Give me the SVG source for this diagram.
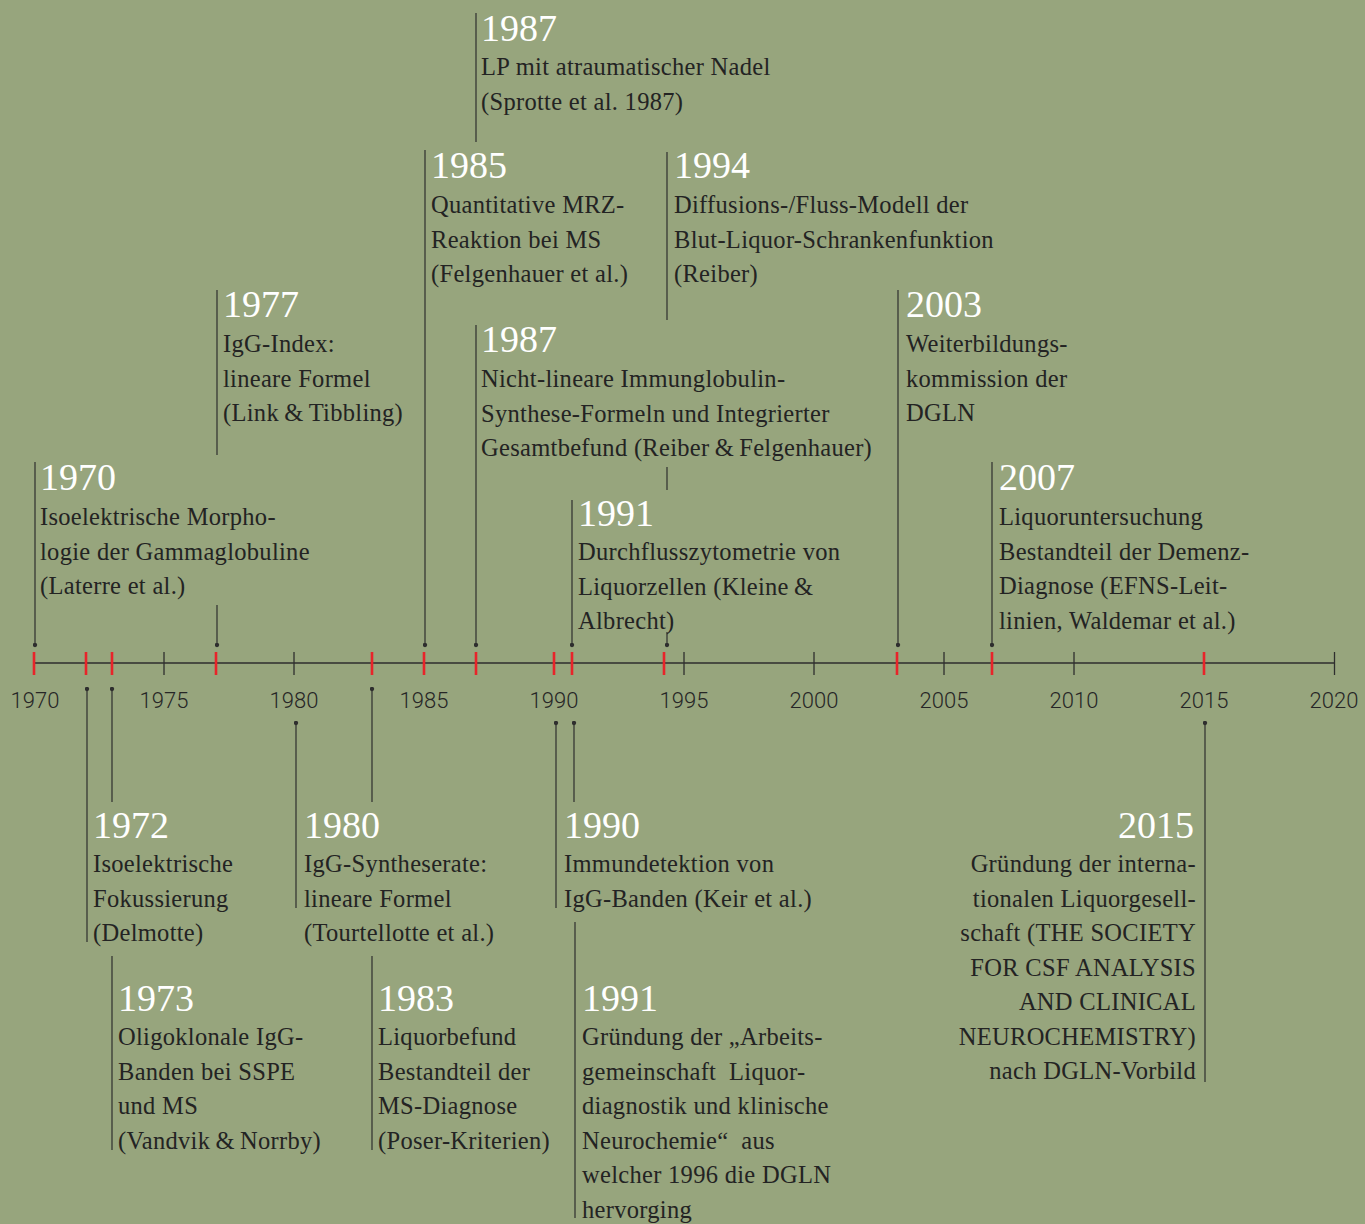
<svg xmlns="http://www.w3.org/2000/svg" width="1365" height="1224" viewBox="0 0 1365 1224">
<defs>
<style>
.bg{fill:#97a57d}
.axis{stroke:#2e2e2e;stroke-width:1.3;fill:none}
.tk{stroke:#2e2e2e;stroke-width:1.3}
.rt{stroke:#e8242a;stroke-width:2.6}
.al{font-family:Roboto,"Liberation Sans",sans-serif;font-size:22px;fill:#262626;text-anchor:middle;font-weight:300}
.c{stroke:#2e2e2e;stroke-width:1.2;fill:none}
.yr{font-family:"Liberation Serif",serif;font-size:38px;fill:#ffffff}
.tx{font-family:"Liberation Serif",serif;font-size:24.5px;letter-spacing:0.3px;fill:#232323}
.r{text-anchor:end}
</style>
<marker id="dot" viewBox="0 0 6 6" refX="3" refY="3" markerWidth="5" markerHeight="5" markerUnits="userSpaceOnUse"><circle cx="3" cy="3" r="2.6" fill="#2e2e2e"/></marker>
</defs>
<rect class="bg" x="0" y="0" width="1365" height="1224"/>

<g id="axis">
<line class="axis" x1="34" y1="663" x2="1335" y2="663"/>
<line class="tk" x1="164" y1="652" x2="164" y2="675"/>
<line class="tk" x1="294" y1="652" x2="294" y2="675"/>
<line class="tk" x1="684" y1="652" x2="684" y2="675"/>
<line class="tk" x1="814" y1="652" x2="814" y2="675"/>
<line class="tk" x1="944" y1="652" x2="944" y2="675"/>
<line class="tk" x1="1074" y1="652" x2="1074" y2="675"/>
<line class="tk" x1="1334.5" y1="652" x2="1334.5" y2="675"/>
<line class="rt" x1="34" y1="652" x2="34" y2="675"/>
<line class="rt" x1="86" y1="652" x2="86" y2="675"/>
<line class="rt" x1="112" y1="652" x2="112" y2="675"/>
<line class="rt" x1="216" y1="652" x2="216" y2="675"/>
<line class="rt" x1="372" y1="652" x2="372" y2="675"/>
<line class="rt" x1="424" y1="652" x2="424" y2="675"/>
<line class="rt" x1="476" y1="652" x2="476" y2="675"/>
<line class="rt" x1="554" y1="652" x2="554" y2="675"/>
<line class="rt" x1="572" y1="652" x2="572" y2="675"/>
<line class="rt" x1="664" y1="652" x2="664" y2="675"/>
<line class="rt" x1="897" y1="652" x2="897" y2="675"/>
<line class="rt" x1="992" y1="652" x2="992" y2="675"/>
<line class="rt" x1="1204" y1="652" x2="1204" y2="675"/>
<text class="al" x="35" y="708">1970</text>
<text class="al" x="164" y="708">1975</text>
<text class="al" x="294" y="708">1980</text>
<text class="al" x="424" y="708">1985</text>
<text class="al" x="554" y="708">1990</text>
<text class="al" x="684" y="708">1995</text>
<text class="al" x="814" y="708">2000</text>
<text class="al" x="944" y="708">2005</text>
<text class="al" x="1074" y="708">2010</text>
<text class="al" x="1204" y="708">2015</text>
<text class="al" x="1334" y="708">2020</text>
</g>

<g id="connectors">
<line class="c" x1="35" y1="462" x2="35" y2="645" marker-end="url(#dot)"/>
<line class="c" x1="217" y1="290" x2="217" y2="455"/>
<line class="c" x1="217" y1="605" x2="217" y2="645" marker-end="url(#dot)"/>
<line class="c" x1="425" y1="150" x2="425" y2="645" marker-end="url(#dot)"/>
<line class="c" x1="476" y1="13" x2="476" y2="142"/>
<line class="c" x1="476" y1="325" x2="476" y2="645" marker-end="url(#dot)"/>
<line class="c" x1="667" y1="152" x2="667" y2="320"/>
<line class="c" x1="667" y1="467" x2="667" y2="490"/>
<line class="c" x1="667" y1="632" x2="667" y2="645" marker-end="url(#dot)"/>
<line class="c" x1="572" y1="500" x2="572" y2="645" marker-end="url(#dot)"/>
<line class="c" x1="898" y1="290" x2="898" y2="645" marker-end="url(#dot)"/>
<line class="c" x1="992" y1="462" x2="992" y2="645" marker-end="url(#dot)"/>
<line class="c" x1="87" y1="942" x2="87" y2="689" marker-end="url(#dot)"/>
<line class="c" x1="112" y1="802" x2="112" y2="689" marker-end="url(#dot)"/>
<line class="c" x1="112" y1="956" x2="112" y2="1150"/>
<line class="c" x1="296" y1="908" x2="296" y2="723" marker-end="url(#dot)"/>
<line class="c" x1="372" y1="802" x2="372" y2="689" marker-end="url(#dot)"/>
<line class="c" x1="372" y1="956" x2="372" y2="1150"/>
<line class="c" x1="556" y1="908" x2="556" y2="723" marker-end="url(#dot)"/>
<line class="c" x1="574" y1="802" x2="574" y2="723" marker-end="url(#dot)"/>
<line class="c" x1="575" y1="922" x2="575" y2="1218"/>
<line class="c" x1="1205" y1="1082" x2="1205" y2="723" marker-end="url(#dot)"/>
</g>

<g id="n1970">
<text class="yr" x="40" y="490">1970</text>
<text class="tx" x="40" y="525">Isoelektrische Morpho-</text>
<text class="tx" x="40" y="559.5">logie der Gammaglobuline</text>
<text class="tx" x="40" y="594">(Laterre et al.)</text>
</g>
<g id="n1977">
<text class="yr" x="223" y="317">1977</text>
<text class="tx" x="223" y="352">IgG-Index:</text>
<text class="tx" x="223" y="386.5">lineare Formel</text>
<text class="tx" x="223" y="421">(Link&#8201;&amp;&#8201;Tibbling)</text>
</g>
<g id="n1985">
<text class="yr" x="431" y="178">1985</text>
<text class="tx" x="431" y="213">Quantitative MRZ-</text>
<text class="tx" x="431" y="247.5">Reaktion bei MS</text>
<text class="tx" x="431" y="282">(Felgenhauer et al.)</text>
</g>
<g id="n1987a">
<text class="yr" x="481" y="41">1987</text>
<text class="tx" x="481" y="75">LP mit atraumatischer Nadel</text>
<text class="tx" x="481" y="109.5">(Sprotte et al. 1987)</text>
</g>
<g id="n1994">
<text class="yr" x="674" y="178">1994</text>
<text class="tx" x="674" y="213">Diffusions-/Fluss-Modell der</text>
<text class="tx" x="674" y="247.5">Blut-Liquor-Schrankenfunktion</text>
<text class="tx" x="674" y="282">(Reiber)</text>
</g>
<g id="n1987b">
<text class="yr" x="481" y="352">1987</text>
<text class="tx" x="481" y="387">Nicht-lineare Immunglobulin-</text>
<text class="tx" x="481" y="421.5">Synthese-Formeln und Integrierter</text>
<text class="tx" x="481" y="456">Gesamtbefund (Reiber&#8201;&amp;&#8201;Felgenhauer)</text>
</g>
<g id="n1991a">
<text class="yr" x="578" y="526">1991</text>
<text class="tx" x="578" y="560">Durchflusszytometrie von</text>
<text class="tx" x="578" y="594.5">Liquorzellen (Kleine&#8201;&amp;</text>
<text class="tx" x="578" y="629">Albrecht)</text>
</g>
<g id="n2003">
<text class="yr" x="906" y="317">2003</text>
<text class="tx" x="906" y="352">Weiterbildungs-</text>
<text class="tx" x="906" y="386.5">kommission der</text>
<text class="tx" x="906" y="421">DGLN</text>
</g>
<g id="n2007">
<text class="yr" x="999" y="490">2007</text>
<text class="tx" x="999" y="525">Liquoruntersuchung</text>
<text class="tx" x="999" y="559.5">Bestandteil der Demenz-</text>
<text class="tx" x="999" y="594">Diagnose (EFNS-Leit-</text>
<text class="tx" x="999" y="628.5">linien, Waldemar et al.)</text>
</g>
<g id="n1972">
<text class="yr" x="93" y="838">1972</text>
<text class="tx" x="93" y="872">Isoelektrische</text>
<text class="tx" x="93" y="906.5">Fokussierung</text>
<text class="tx" x="93" y="941">(Delmotte)</text>
</g>
<g id="n1973">
<text class="yr" x="118" y="1011">1973</text>
<text class="tx" x="118" y="1045">Oligoklonale IgG-</text>
<text class="tx" x="118" y="1079.5">Banden bei SSPE</text>
<text class="tx" x="118" y="1114">und MS</text>
<text class="tx" x="118" y="1148.5">(Vandvik&#8201;&amp;&#8201;Norrby)</text>
</g>
<g id="n1980">
<text class="yr" x="304" y="838">1980</text>
<text class="tx" x="304" y="872">IgG-Syntheserate:</text>
<text class="tx" x="304" y="906.5">lineare Formel</text>
<text class="tx" x="304" y="941">(Tourtellotte et al.)</text>
</g>
<g id="n1983">
<text class="yr" x="378" y="1011">1983</text>
<text class="tx" x="378" y="1045">Liquorbefund</text>
<text class="tx" x="378" y="1079.5">Bestandteil der</text>
<text class="tx" x="378" y="1114">MS-Diagnose</text>
<text class="tx" x="378" y="1148.5">(Poser-Kriterien)</text>
</g>
<g id="n1990">
<text class="yr" x="564" y="838">1990</text>
<text class="tx" x="564" y="872">Immundetektion von</text>
<text class="tx" x="564" y="906.5">IgG-Banden (Keir et al.)</text>
</g>
<g id="n1991b">
<text class="yr" x="582" y="1011">1991</text>
<text class="tx" x="582" y="1045">Gründung der „Arbeits-</text>
<text class="tx" x="582" y="1079.5">gemeinschaft&#160; Liquor-</text>
<text class="tx" x="582" y="1114">diagnostik und klinische</text>
<text class="tx" x="582" y="1148.5">Neurochemie“&#160; aus</text>
<text class="tx" x="582" y="1183">welcher 1996 die DGLN</text>
<text class="tx" x="582" y="1217.5">hervorging</text>
</g>
<g id="n2015">
<text class="yr r" x="1194" y="838">2015</text>
<text class="tx r" x="1196" y="872">Gründung der interna-</text>
<text class="tx r" x="1196" y="906.5">tionalen Liquorgesell-</text>
<text class="tx r" x="1196" y="941">schaft (THE SOCIETY</text>
<text class="tx r" x="1196" y="975.5">FOR CSF ANALYSIS</text>
<text class="tx r" x="1196" y="1010">AND CLINICAL</text>
<text class="tx r" x="1196" y="1044.5">NEUROCHEMISTRY)</text>
<text class="tx r" x="1196" y="1079">nach DGLN-Vorbild</text>
</g>
</svg>
